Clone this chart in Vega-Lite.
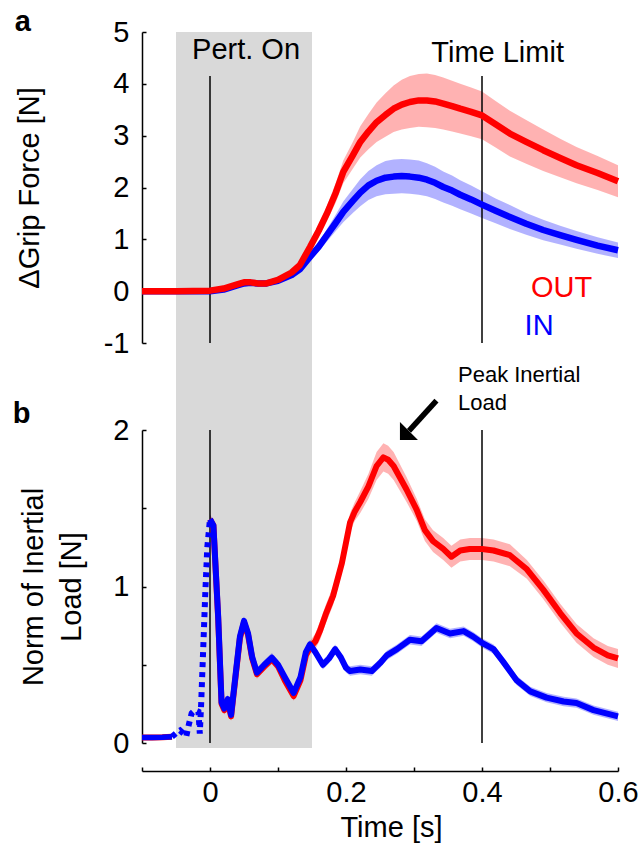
{
"$schema": "https://vega.github.io/schema/vega-lite/v6.json",
"width": 476, "height": 716,
"autosize": {"type": "none"},
"padding": {"left": 142, "top": 32, "right": 23, "bottom": 96},
"config": {
 "font": "Liberation Sans",
 "view": {"stroke": null},
 "axis": {"grid": false, "domainColor": "#000", "domainWidth": 1.5, "tickColor": "#000", "tickWidth": 1.5, "tickSize": -4, "labelColor": "#000", "labelFontSize": 29, "labelFont": "Liberation Sans", "titleColor": "#000", "titleFontSize": 29, "titleFont": "Liberation Sans", "titleFontWeight": "normal", "labelFlush": false, "labelOverlap": false}
},
"datasets": {
 "gf": [
  {"t":-0.1,"out":0,"out_lo":-0.02,"out_hi":0.02,"in":0,"in_lo":-0.02,"in_hi":0.02},
  {"t":-0.05,"out":0,"out_lo":-0.02,"out_hi":0.02,"in":0,"in_lo":-0.02,"in_hi":0.02},
  {"t":0,"out":0.01,"out_lo":-0.01,"out_hi":0.03,"in":0,"in_lo":-0.02,"in_hi":0.02},
  {"t":0.02,"out":0.05,"out_lo":0.03,"out_hi":0.07,"in":0.03,"in_lo":0.01,"in_hi":0.05},
  {"t":0.04,"out":0.13,"out_lo":0.11,"out_hi":0.15,"in":0.11,"in_lo":0.09,"in_hi":0.13},
  {"t":0.05,"out":0.17,"out_lo":0.15,"out_hi":0.19,"in":0.15,"in_lo":0.13,"in_hi":0.17},
  {"t":0.06,"out":0.17,"out_lo":0.15,"out_hi":0.19,"in":0.16,"in_lo":0.14,"in_hi":0.18},
  {"t":0.07,"out":0.15,"out_lo":0.13,"out_hi":0.17,"in":0.15,"in_lo":0.13,"in_hi":0.17},
  {"t":0.083,"out":0.15,"out_lo":0.12,"out_hi":0.18,"in":0.15,"in_lo":0.12,"in_hi":0.18},
  {"t":0.1,"out":0.22,"out_lo":0.19,"out_hi":0.25,"in":0.2,"in_lo":0.17,"in_hi":0.23},
  {"t":0.12,"out":0.36,"out_lo":0.32,"out_hi":0.4,"in":0.31,"in_lo":0.27,"in_hi":0.35},
  {"t":0.132,"out":0.5,"out_lo":0.45,"out_hi":0.55,"in":0.42,"in_lo":0.37,"in_hi":0.47},
  {"t":0.147,"out":0.85,"out_lo":0.77,"out_hi":0.93,"in":0.66,"in_lo":0.59,"in_hi":0.73},
  {"t":0.16,"out":1.17,"out_lo":1.06,"out_hi":1.28,"in":0.86,"in_lo":0.77,"in_hi":0.95},
  {"t":0.172,"out":1.5,"out_lo":1.35,"out_hi":1.65,"in":1.08,"in_lo":0.96,"in_hi":1.2},
  {"t":0.185,"out":1.9,"out_lo":1.71,"out_hi":2.09,"in":1.32,"in_lo":1.16,"in_hi":1.48},
  {"t":0.196,"out":2.3,"out_lo":2.08,"out_hi":2.52,"in":1.53,"in_lo":1.33,"in_hi":1.73},
  {"t":0.21,"out":2.62,"out_lo":2.36,"out_hi":2.88,"in":1.74,"in_lo":1.51,"in_hi":1.97},
  {"t":0.221,"out":2.88,"out_lo":2.58,"out_hi":3.18,"in":1.9,"in_lo":1.64,"in_hi":2.16},
  {"t":0.233,"out":3.08,"out_lo":2.74,"out_hi":3.42,"in":2.04,"in_lo":1.76,"in_hi":2.32},
  {"t":0.245,"out":3.26,"out_lo":2.88,"out_hi":3.64,"in":2.13,"in_lo":1.83,"in_hi":2.43},
  {"t":0.258,"out":3.4,"out_lo":2.98,"out_hi":3.82,"in":2.19,"in_lo":1.87,"in_hi":2.51},
  {"t":0.27,"out":3.52,"out_lo":3.07,"out_hi":3.97,"in":2.21,"in_lo":1.88,"in_hi":2.54},
  {"t":0.282,"out":3.6,"out_lo":3.12,"out_hi":4.08,"in":2.22,"in_lo":1.89,"in_hi":2.55},
  {"t":0.294,"out":3.65,"out_lo":3.15,"out_hi":4.15,"in":2.21,"in_lo":1.88,"in_hi":2.54},
  {"t":0.307,"out":3.68,"out_lo":3.17,"out_hi":4.19,"in":2.19,"in_lo":1.86,"in_hi":2.52},
  {"t":0.319,"out":3.68,"out_lo":3.16,"out_hi":4.2,"in":2.15,"in_lo":1.83,"in_hi":2.47},
  {"t":0.331,"out":3.66,"out_lo":3.15,"out_hi":4.17,"in":2.09,"in_lo":1.78,"in_hi":2.4},
  {"t":0.343,"out":3.62,"out_lo":3.12,"out_hi":4.12,"in":2.01,"in_lo":1.71,"in_hi":2.31},
  {"t":0.356,"out":3.57,"out_lo":3.08,"out_hi":4.06,"in":1.94,"in_lo":1.65,"in_hi":2.23},
  {"t":0.368,"out":3.52,"out_lo":3.04,"out_hi":4.0,"in":1.86,"in_lo":1.58,"in_hi":2.14},
  {"t":0.384,"out":3.46,"out_lo":2.99,"out_hi":3.93,"in":1.77,"in_lo":1.5,"in_hi":2.04},
  {"t":0.4,"out":3.39,"out_lo":2.93,"out_hi":3.85,"in":1.67,"in_lo":1.41,"in_hi":1.93},
  {"t":0.42,"out":3.22,"out_lo":2.77,"out_hi":3.67,"in":1.55,"in_lo":1.31,"in_hi":1.79},
  {"t":0.441,"out":3.04,"out_lo":2.6,"out_hi":3.48,"in":1.43,"in_lo":1.2,"in_hi":1.66},
  {"t":0.465,"out":2.88,"out_lo":2.46,"out_hi":3.3,"in":1.3,"in_lo":1.09,"in_hi":1.51},
  {"t":0.49,"out":2.72,"out_lo":2.32,"out_hi":3.12,"in":1.18,"in_lo":0.98,"in_hi":1.38},
  {"t":0.515,"out":2.57,"out_lo":2.2,"out_hi":2.94,"in":1.08,"in_lo":0.9,"in_hi":1.26},
  {"t":0.539,"out":2.43,"out_lo":2.08,"out_hi":2.78,"in":0.99,"in_lo":0.82,"in_hi":1.16},
  {"t":0.57,"out":2.28,"out_lo":1.95,"out_hi":2.61,"in":0.88,"in_lo":0.72,"in_hi":1.04},
  {"t":0.6,"out":2.12,"out_lo":1.81,"out_hi":2.43,"in":0.79,"in_lo":0.64,"in_hi":0.94}
 ],
 "ilPre": [
  {"t":-0.1,"v":0.035},{"t":-0.085,"v":0.035},{"t":-0.07,"v":0.036},{"t":-0.056,"v":0.04}
 ],
 "ilDot": [
  {"t":-0.056,"v":0.04},{"t":-0.048,"v":0.07},{"t":-0.044,"v":0.08},{"t":-0.039,"v":0.06},{"t":-0.035,"v":0.04},{"t":-0.031,"v":0.12},{"t":-0.027,"v":0.19},{"t":-0.022,"v":0.21},{"t":-0.017,"v":0.2},{"t":-0.015,"v":0.06},{"t":-0.013,"v":0.25},{"t":-0.01,"v":0.6},{"t":-0.007,"v":0.95},{"t":-0.004,"v":1.25},{"t":0,"v":1.43}
 ],
 "ilOut": [
  {"t":0,"v":1.43,"lo":1.4,"hi":1.46},{"t":0.005,"v":1.39,"lo":1.36,"hi":1.42},{"t":0.012,"v":0.8,"lo":0.77,"hi":0.83},{"t":0.017,"v":0.25,"lo":0.22,"hi":0.28},{"t":0.021,"v":0.21,"lo":0.18,"hi":0.24},{"t":0.026,"v":0.27,"lo":0.24,"hi":0.3},{"t":0.031,"v":0.17,"lo":0.14,"hi":0.2},{"t":0.038,"v":0.44,"lo":0.41,"hi":0.47},{"t":0.044,"v":0.67,"lo":0.64,"hi":0.7},{"t":0.05,"v":0.77,"lo":0.74,"hi":0.8},{"t":0.056,"v":0.69,"lo":0.66,"hi":0.72},{"t":0.062,"v":0.54,"lo":0.51,"hi":0.57},{"t":0.069,"v":0.44,"lo":0.41,"hi":0.47},{"t":0.08,"v":0.49,"lo":0.46,"hi":0.52},{"t":0.091,"v":0.535,"lo":0.505,"hi":0.565},{"t":0.1,"v":0.49,"lo":0.46,"hi":0.52},{"t":0.11,"v":0.4,"lo":0.37,"hi":0.43},{"t":0.123,"v":0.3,"lo":0.27,"hi":0.33},{"t":0.133,"v":0.4,"lo":0.37,"hi":0.43},{"t":0.141,"v":0.56,"lo":0.53,"hi":0.59},{"t":0.147,"v":0.61,"lo":0.57,"hi":0.65},{"t":0.155,"v":0.65,"lo":0.6,"hi":0.7},{"t":0.162,"v":0.72,"lo":0.66,"hi":0.78},{"t":0.17,"v":0.82,"lo":0.76,"hi":0.88},{"t":0.181,"v":0.94,"lo":0.88,"hi":1.0},{"t":0.194,"v":1.15,"lo":1.09,"hi":1.21},{"t":0.206,"v":1.41,"lo":1.35,"hi":1.47},{"t":0.213,"v":1.48,"lo":1.42,"hi":1.54},{"t":0.221,"v":1.54,"lo":1.47,"hi":1.61},{"t":0.233,"v":1.64,"lo":1.56,"hi":1.72},{"t":0.245,"v":1.77,"lo":1.68,"hi":1.86},{"t":0.255,"v":1.825,"lo":1.735,"hi":1.915},{"t":0.262,"v":1.81,"lo":1.72,"hi":1.9},{"t":0.27,"v":1.77,"lo":1.68,"hi":1.86},{"t":0.289,"v":1.62,"lo":1.54,"hi":1.7},{"t":0.304,"v":1.49,"lo":1.42,"hi":1.56},{"t":0.316,"v":1.36,"lo":1.29,"hi":1.43},{"t":0.328,"v":1.29,"lo":1.22,"hi":1.36},{"t":0.343,"v":1.24,"lo":1.17,"hi":1.31},{"t":0.355,"v":1.19,"lo":1.12,"hi":1.26},{"t":0.368,"v":1.23,"lo":1.16,"hi":1.3},{"t":0.382,"v":1.24,"lo":1.17,"hi":1.31},{"t":0.4,"v":1.24,"lo":1.17,"hi":1.31},{"t":0.417,"v":1.23,"lo":1.16,"hi":1.3},{"t":0.441,"v":1.2,"lo":1.13,"hi":1.27},{"t":0.466,"v":1.11,"lo":1.05,"hi":1.17},{"t":0.49,"v":0.98,"lo":0.92,"hi":1.04},{"t":0.515,"v":0.83,"lo":0.77,"hi":0.89},{"t":0.539,"v":0.7,"lo":0.64,"hi":0.76},{"t":0.564,"v":0.61,"lo":0.55,"hi":0.67},{"t":0.585,"v":0.56,"lo":0.5,"hi":0.62},{"t":0.6,"v":0.54,"lo":0.48,"hi":0.6}
 ],
 "ilIn": [
  {"t":0,"v":1.43,"lo":1.4,"hi":1.46},{"t":0.005,"v":1.39,"lo":1.36,"hi":1.42},{"t":0.012,"v":0.81,"lo":0.78,"hi":0.84},{"t":0.017,"v":0.26,"lo":0.23,"hi":0.29},{"t":0.021,"v":0.22,"lo":0.19,"hi":0.25},{"t":0.026,"v":0.28,"lo":0.25,"hi":0.31},{"t":0.031,"v":0.18,"lo":0.15,"hi":0.21},{"t":0.038,"v":0.45,"lo":0.42,"hi":0.48},{"t":0.044,"v":0.68,"lo":0.65,"hi":0.71},{"t":0.05,"v":0.78,"lo":0.75,"hi":0.81},{"t":0.056,"v":0.7,"lo":0.67,"hi":0.73},{"t":0.062,"v":0.55,"lo":0.52,"hi":0.58},{"t":0.069,"v":0.45,"lo":0.42,"hi":0.48},{"t":0.08,"v":0.5,"lo":0.47,"hi":0.53},{"t":0.091,"v":0.545,"lo":0.515,"hi":0.575},{"t":0.1,"v":0.5,"lo":0.47,"hi":0.53},{"t":0.11,"v":0.42,"lo":0.39,"hi":0.45},{"t":0.123,"v":0.32,"lo":0.29,"hi":0.35},{"t":0.133,"v":0.42,"lo":0.39,"hi":0.45},{"t":0.141,"v":0.58,"lo":0.55,"hi":0.61},{"t":0.147,"v":0.63,"lo":0.6,"hi":0.66},{"t":0.155,"v":0.58,"lo":0.55,"hi":0.61},{"t":0.166,"v":0.5,"lo":0.47,"hi":0.53},{"t":0.175,"v":0.54,"lo":0.51,"hi":0.57},{"t":0.184,"v":0.6,"lo":0.57,"hi":0.63},{"t":0.192,"v":0.55,"lo":0.52,"hi":0.58},{"t":0.2,"v":0.48,"lo":0.45,"hi":0.51},{"t":0.206,"v":0.46,"lo":0.43,"hi":0.49},{"t":0.221,"v":0.47,"lo":0.44,"hi":0.5},{"t":0.238,"v":0.46,"lo":0.43,"hi":0.49},{"t":0.25,"v":0.51,"lo":0.48,"hi":0.54},{"t":0.26,"v":0.56,"lo":0.53,"hi":0.59},{"t":0.275,"v":0.6,"lo":0.57,"hi":0.63},{"t":0.294,"v":0.66,"lo":0.63,"hi":0.69},{"t":0.311,"v":0.65,"lo":0.62,"hi":0.68},{"t":0.324,"v":0.7,"lo":0.67,"hi":0.73},{"t":0.333,"v":0.735,"lo":0.705,"hi":0.765},{"t":0.353,"v":0.7,"lo":0.67,"hi":0.73},{"t":0.373,"v":0.715,"lo":0.685,"hi":0.745},{"t":0.387,"v":0.68,"lo":0.65,"hi":0.71},{"t":0.4,"v":0.64,"lo":0.61,"hi":0.67},{"t":0.417,"v":0.6,"lo":0.57,"hi":0.63},{"t":0.431,"v":0.52,"lo":0.49,"hi":0.55},{"t":0.451,"v":0.4,"lo":0.37,"hi":0.43},{"t":0.471,"v":0.33,"lo":0.3,"hi":0.36},{"t":0.495,"v":0.29,"lo":0.26,"hi":0.32},{"t":0.52,"v":0.265,"lo":0.235,"hi":0.295},{"t":0.539,"v":0.255,"lo":0.225,"hi":0.285},{"t":0.564,"v":0.21,"lo":0.18,"hi":0.24},{"t":0.6,"v":0.17,"lo":0.14,"hi":0.2}
 ]
},
"layer": [
 {
  "data": {"values": [{"start": -0.05, "end": 0.15}]},
  "mark": {"type": "rect", "color": "#d9d9d9"},
  "encoding": {
   "x": {"field": "start", "type": "quantitative", "scale": {"domain": [-0.1, 0.6], "nice": false, "zero": false},
     "axis": {"orient": "bottom", "title": "Time [s]", "offset": 23, "values": [-0.1, 0, 0.1, 0.2, 0.3, 0.4, 0.5, 0.6],
       "labelExpr": "datum.value == 0 || datum.value == 0.2 || datum.value == 0.4 || datum.value == 0.6 ? format(datum.value, '~g') : ''",
       "labelPadding": 11, "titleBaseline": "alphabetic", "titleY": 65, "titleX": 249}},
   "x2": {"field": "end"}
  }
 },
 {
  "layer": [
   {"data": {"name": "gf"}, "mark": {"type": "area", "color": "#ff0000", "opacity": 0.3},
    "encoding": {"x": {"field": "t", "type": "quantitative"},
     "y": {"field": "out_lo", "type": "quantitative", "scale": {"domain": [-1, 5], "range": [311, 0], "nice": false, "zero": false},
       "axis": {"orient": "left", "title": "ΔGrip Force [N]", "values": [-1, 0, 1, 2, 3, 4, 5],
         "labelExpr": "datum.value < 0 ? '-' + format(-datum.value, '~g') : format(datum.value, '~g')",
         "labelPadding": 17, "titleX": -113, "titleBaseline": "middle"}},
     "y2": {"field": "out_hi"}}},
   {"data": {"name": "gf"}, "mark": {"type": "area", "color": "#0000ff", "opacity": 0.3},
    "encoding": {"x": {"field": "t", "type": "quantitative"},
     "y": {"field": "in_lo", "type": "quantitative"}, "y2": {"field": "in_hi"}}},
   {"data": {"values": [{"t": 0, "a": -1, "b": 4.15}, {"t": 0.4, "a": -1, "b": 4.15}]},
    "mark": {"type": "rule", "color": "#000", "strokeWidth": 1.5},
    "encoding": {"x": {"field": "t", "type": "quantitative"},
     "y": {"field": "a", "type": "quantitative"}, "y2": {"field": "b"}}},
   {"data": {"name": "gf"}, "mark": {"type": "line", "color": "#0000ff", "strokeWidth": 6.5, "strokeJoin": "round"},
    "encoding": {"x": {"field": "t", "type": "quantitative"},
     "y": {"field": "in", "type": "quantitative"}}},
   {"data": {"name": "gf"}, "mark": {"type": "line", "color": "#ff0000", "strokeWidth": 6.5, "strokeJoin": "round"},
    "encoding": {"x": {"field": "t", "type": "quantitative"},
     "y": {"field": "out", "type": "quantitative"}}},
   {"data": {"values": [
      {"t": 0.053, "v": 4.47, "label": "Pert. On", "kind": "note"},
      {"t": 0.423, "v": 4.43, "label": "Time Limit", "kind": "note"},
      {"t": 0.517, "v": -0.113, "label": "OUT", "kind": "OUT"},
      {"t": 0.484, "v": -0.846, "label": "IN", "kind": "IN"}]},
    "mark": {"type": "text", "fontSize": 29, "align": "center", "baseline": "alphabetic"},
    "encoding": {"x": {"field": "t", "type": "quantitative"},
     "y": {"field": "v", "type": "quantitative"},
     "text": {"field": "label"},
     "color": {"field": "kind", "type": "nominal", "scale": {"domain": ["note", "OUT", "IN"], "range": ["#000000", "#ff0000", "#0000ff"]}, "legend": null}}},
   {"data": {"values": [{"t": -0.287, "v": 5.02, "label": "a"}]},
    "mark": {"type": "text", "fontSize": 29, "fontWeight": "bold", "align": "left", "baseline": "alphabetic", "color": "#000"},
    "encoding": {"x": {"field": "t", "type": "quantitative"},
     "y": {"field": "v", "type": "quantitative"},
     "text": {"field": "label"}}}
  ]
 },
 {
  "layer": [
   {"data": {"name": "ilOut"}, "mark": {"type": "area", "color": "#ff0000", "opacity": 0.3},
    "encoding": {"x": {"field": "t", "type": "quantitative"},
     "y": {"field": "lo", "type": "quantitative", "scale": {"domain": [0, 2], "range": [711, 398], "nice": false, "zero": false},
       "axis": {"orient": "left", "title": ["Norm of Inertial", "Load [N]"], "values": [0, 0.5, 1, 1.5, 2],
         "labelExpr": "datum.value == 0.5 || datum.value == 1.5 ? '' : format(datum.value, '~g')",
         "labelPadding": 17, "titleX": -109, "titleBaseline": "middle", "titleLineHeight": 38}},
     "y2": {"field": "hi"}}},
   {"data": {"name": "ilIn"}, "mark": {"type": "area", "color": "#0000ff", "opacity": 0.3},
    "encoding": {"x": {"field": "t", "type": "quantitative"},
     "y": {"field": "lo", "type": "quantitative"}, "y2": {"field": "hi"}}},
   {"data": {"values": [{"t": 0, "a": 0, "b": 2}, {"t": 0.4, "a": 0, "b": 2}]},
    "mark": {"type": "rule", "color": "#000", "strokeWidth": 1.5},
    "encoding": {"x": {"field": "t", "type": "quantitative"},
     "y": {"field": "a", "type": "quantitative"}, "y2": {"field": "b"}}},
   {"data": {"name": "ilPre"}, "mark": {"type": "line", "color": "#ff0000", "strokeWidth": 6, "strokeJoin": "round"},
    "encoding": {"x": {"field": "t", "type": "quantitative"},
     "y": {"field": "v", "type": "quantitative"}}},
   {"data": {"name": "ilOut"}, "mark": {"type": "line", "color": "#ff0000", "strokeWidth": 6, "strokeJoin": "round"},
    "encoding": {"x": {"field": "t", "type": "quantitative"},
     "y": {"field": "v", "type": "quantitative"}}},
   {"data": {"name": "ilPre"}, "mark": {"type": "line", "color": "#0000ff", "strokeWidth": 5.5, "strokeJoin": "round"},
    "encoding": {"x": {"field": "t", "type": "quantitative"},
     "y": {"field": "v", "type": "quantitative"}}},
   {"data": {"name": "ilDot"}, "mark": {"type": "line", "color": "#0000ff", "strokeWidth": 6, "strokeDash": [5, 5]},
    "encoding": {"x": {"field": "t", "type": "quantitative"},
     "y": {"field": "v", "type": "quantitative"}}},
   {"data": {"name": "ilIn"}, "mark": {"type": "line", "color": "#0000ff", "strokeWidth": 6, "strokeJoin": "round"},
    "encoding": {"x": {"field": "t", "type": "quantitative"},
     "y": {"field": "v", "type": "quantitative"}}},
   {"data": {"values": [{"t": -0.29, "v": 2.045, "label": "b"}]},
    "mark": {"type": "text", "fontSize": 29, "fontWeight": "bold", "align": "left", "baseline": "alphabetic", "color": "#000"},
    "encoding": {"x": {"field": "t", "type": "quantitative"},
     "y": {"field": "v", "type": "quantitative"},
     "text": {"field": "label"}}},
   {"data": {"values": [{"t": 0.3647, "v": 2.307, "label": "Peak Inertial"}, {"t": 0.3647, "v": 2.128, "label": "Load"}]},
    "mark": {"type": "text", "fontSize": 22, "align": "left", "baseline": "alphabetic", "color": "#000"},
    "encoding": {"x": {"field": "t", "type": "quantitative"},
     "y": {"field": "v", "type": "quantitative"},
     "text": {"field": "label"}}},
   {"data": {"values": [{"t": 0.333, "v": 2.188, "t2": 0.2926, "v2": 1.994}]},
    "mark": {"type": "rule", "color": "#000", "strokeWidth": 5.5},
    "encoding": {"x": {"field": "t", "type": "quantitative"},
     "y": {"field": "v", "type": "quantitative"},
     "x2": {"field": "t2"}, "y2": {"field": "v2"}}},
   {"data": {"values": [{"t": 0.2926, "v": 1.994}]},
    "mark": {"type": "point", "shape": "M-1,-1L-1,1L1,1Z", "size": 324, "filled": true, "color": "#000", "opacity": 1},
    "encoding": {"x": {"field": "t", "type": "quantitative"},
     "y": {"field": "v", "type": "quantitative"}}}
  ]
 }
],
"resolve": {"scale": {"y": "independent"}, "axis": {"y": "independent"}}
}
